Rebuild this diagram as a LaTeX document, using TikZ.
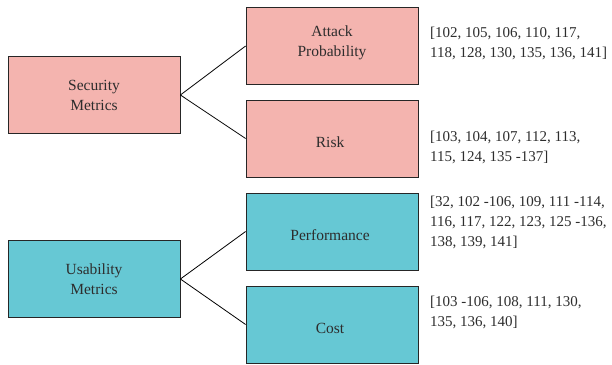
\documentclass[tikz,border=0pt]{standalone}
\usepackage{fontspec}
\setmainfont{Liberation Serif}
\usepackage{xcolor}
\usepackage{tikz}
\usetikzlibrary{positioning}

\definecolor{secpink}{RGB}{244,180,175}
\definecolor{usateal}{RGB}{102,200,212}
\definecolor{txtgray}{RGB}{45,45,45}

\begin{document}
\begin{tikzpicture}[x=1pt,y=1pt,
  metricbox/.style={rectangle,draw=black!85,line width=.8pt,minimum width=172pt,minimum height=77pt,
    align=center,text=txtgray,font=\fontsize{15.5}{20}\selectfont,inner sep=0pt},
  lowtext/.style={text height=19pt},
  refs/.style={anchor=west,align=left,text=txtgray,font=\fontsize{15}{20}\selectfont,inner sep=2pt}]

\useasboundingbox (0,0) rectangle (612,364);

\node[metricbox,fill=secpink] (sec) at (94,269) { Security\\Metrics } ;
\node[metricbox,fill=secpink,text depth=10pt] (attack) at (332,318) { Attack\\Probability } ;
\node[metricbox,fill=secpink,lowtext] (risk) at (332,225.5) { Risk } ;

\node[metricbox,fill=usateal] (usa) at (94,85) { Usability\\Metrics } ;
\node[metricbox,fill=usateal,lowtext] (perf) at (332,132.5) { Performance } ;
\node[metricbox,fill=usateal,lowtext] (cost) at (332,39.5) { Cost } ;

\node[refs] (refattack) at (428,321) { [102, 105, 106, 110, 117,\\118, 128, 130, 135, 136, 141] } ;
\node[refs] (refrisk) at (428,217) { [103, 104, 107, 112, 113,\\115, 124, 135 -137] } ;
\node[refs] (refperf) at (428,142) { [32, 102 -106, 109, 111 -114,\\116, 117, 122, 123, 125 -136,\\138, 139, 141] } ;
\node[refs] (refcost) at (428,52) { [103 -106, 108, 111, 130,\\135, 136, 140] } ;

\draw[line width=.8pt] (sec.east) -- (attack.west) ;
\draw[line width=.8pt] (sec.east) -- (risk.west) ;
\draw[line width=.8pt] (usa.east) -- (perf.west) ;
\draw[line width=.8pt] (usa.east) -- (cost.west) ;

\end{tikzpicture}
\end{document}
